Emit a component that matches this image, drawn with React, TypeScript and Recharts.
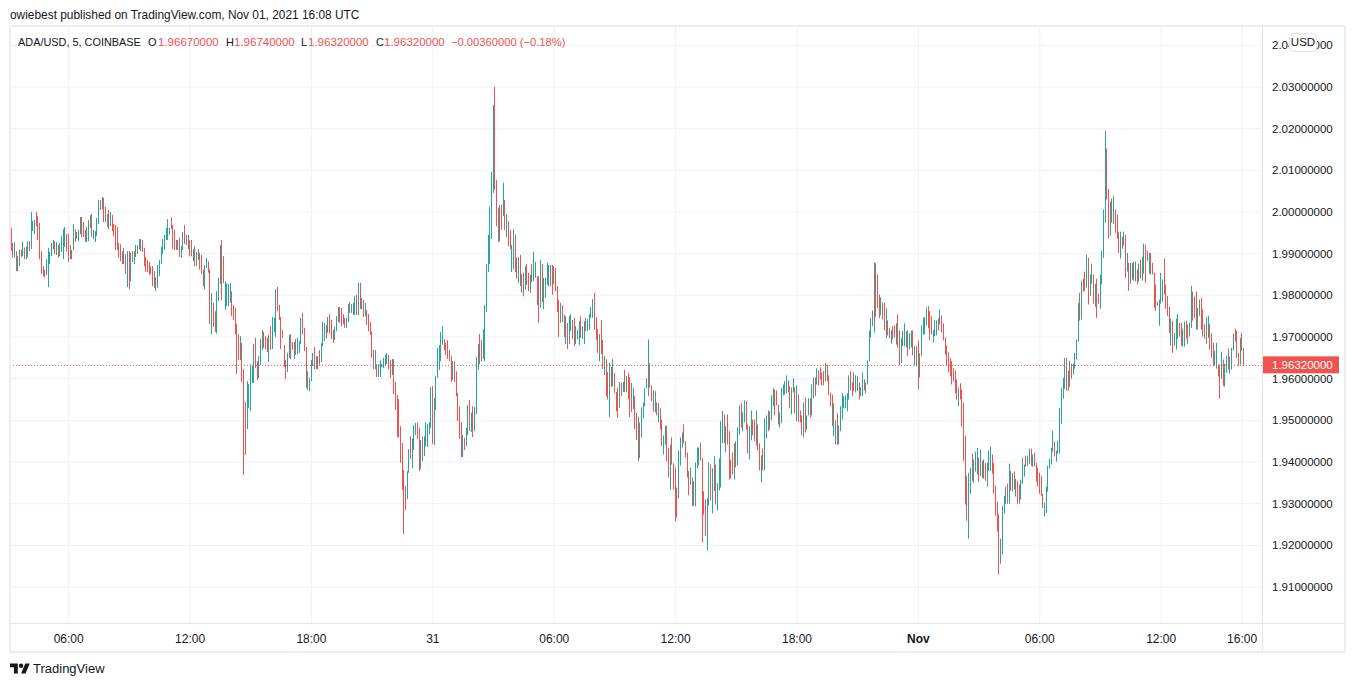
import { Bar, CartesianGrid, ComposedChart, ReferenceLine, XAxis, YAxis } from "recharts";

const FONT = "'Liberation Sans', Arial, sans-serif";
const TEXT = "#131722";
const RED = "#ef5350";
const GREEN = "#26a69a";
const GRID = "#f0f2f6";
const FRAME = "#eceef4";

// 5 minute bars, prices in 1e-4 USD
const highs = [
  19962,19926,19928,19906,19894,19909,19909,19929,19915,19917,
  19929,19930,20000,19979,19981,20000,19990,19974,19906,19870,
  19861,19887,19914,19904,19926,19933,19930,19928,19921,19926,
  19942,19959,19964,19947,19947,19921,19909,19971,19959,19952,19957,
  19988,19988,19976,19957,19964,19981,19993,19995,19957,19954,19986,
  20029,20029,20036,20034,20013,19995,20005,20000,19993,19971,19969,
  19964,19926,19923,19906,19914,19899,19906,19906,19902,19906,
  19906,19921,19921,19935,19935,19933,19914,19892,19885,19880,
  19870,19870,19858,19844,19873,19885,19916,19935,19945,19962,
  19983,19962,19988,19969,19957,19933,19933,19938,19918,19952,19969,
  19945,19945,19933,19933,19911,19918,19904,19911,19902,19897,
  19862,19873,19890,19882,19862,19806,19782,19762,19810,19842,
  19921,19933,19894,19834,19829,19827,19829,19810,19777,19770,
  19731,19707,19702,19686,19623,19544,19594,19587,19635,19633,
  19683,19698,19642,19654,19695,19717,19712,19702,19698,19705,
  19726,19748,19746,19815,19820,19777,19748,19717,19681,19645,
  19662,19705,19707,19688,19688,19695,19698,19690,19746,19758,
  19722,19676,19618,19602,19645,19662,19676,19654,19654,19669,
  19685,19736,19734,19729,19748,19755,19741,19717,19724,19750,
  19772,19772,19770,19755,19746,19746,19779,19784,19779,19782,
  19798,19801,19830,19830,19794,19789,19782,19765,19755,19736,
  19714,19669,19669,19635,19635,19645,19635,19650,19657,19662,19657,
  19645,19647,19647,19592,19561,19551,19486,19446,19381,19342,
  19378,19431,19462,19457,19489,19494,19494,19482,19453,19462,
  19462,19496,19491,19496,19580,19582,19554,19606,19674,19681,
  19712,19726,19695,19686,19693,19669,19654,19642,19642,19618,
  19566,19534,19496,19465,19458,19482,19537,19549,19518,19534,
  19532,19652,19683,19707,19693,19719,19777,19875,19945,20012,
  20096,20257,20300,20077,20010,20017,20017,20070,20029,19995,
  19978,19957,19921,19959,19945,19890,19892,19897,19851,19854,
  19870,19875,19854,19849,19875,19904,19880,19846,19846,19885,
  19875,19842,19842,19878,19873,19873,19873,19870,19866,19822,
  19789,19782,19777,19753,19750,19734,19750,19755,19741,19746,
  19726,19717,19738,19750,19726,19738,19746,19743,19755,19772,
  19791,19806,19748,19719,19707,19741,19693,19654,19647,19616,
  19638,19628,19647,19614,19568,19578,19592,19590,19592,19621,
  19606,19614,19604,19590,19578,19558,19518,19508,19495,19531,19543,
  19577,19601,19694,19637,19584,19572,19570,19543,19541,19529,
  19502,19464,19488,19486,19434,19442,19459,19397,19387,19339,
  19428,19459,19471,19490,19450,19423,19378,19387,19363,19354,
  19399,19435,19435,19447,19409,19330,19310,19313,19399,19394,
  19385,19414,19394,19349,19409,19498,19522,19514,19486,19514,
  19474,19406,19423,19445,19450,19483,19536,19541,19519,19548,
  19546,19490,19486,19524,19502,19502,19524,19490,19445,19416,
  19433,19505,19512,19524,19522,19560,19577,19574,19572,19538,
  19519,19577,19586,19594,19608,19596,19582,19579,19601,19579,
  19584,19562,19524,19512,19543,19555,19512,19553,19553,19586,
  19603,19603,19625,19620,19627,19615,19618,19637,19634,19608,
  19567,19562,19541,19500,19517,19488,19534,19565,19558,19560,
  19565,19608,19618,19591,19615,19608,19606,19591,19579,19615,
  19598,19591,19644,19716,19745,19764,19879,19877,19850,19802,
  19795,19783,19783,19769,19740,19721,19716,19726,19728,19733,
  19754,19716,19697,19714,19733,19714,19716,19709,19716,19716,
  19678,19678,19692,19661,19728,19747,19747,19771,19774,19762,
  19750,19716,19740,19740,19745,19766,19752,19733,19699,19680,
  19663,19649,19642,19625,19620,19598,19579,19589,19574,19542,
  19463,19367,19374,19386,19420,19406,19425,19434,19410,19430,
  19403,19406,19398,19398,19427,19437,19418,19398,19343,19305,
  19274,19216,19295,19319,19341,19348,19396,19379,19374,19377,
  19360,19355,19346,19358,19410,19394,19415,19415,19432,19432,
  19418,19423,19398,19386,19374,19367,19324,19302,19341,19391,
  19408,19434,19475,19449,19427,19451,19530,19578,19602,19650,
  19650,19619,19643,19636,19636,19662,19694,19782,19806,19835,
  19840,19857,19898,19890,19850,19876,19850,19828,19840,19804,
  19850,19907,20006,20195,20152,20056,20025,20032,20039,20006,
  19994,19953,19953,19941,19953,19946,19902,19878,19878,19878,
  19881,19881,19862,19876,19886,19893,19924,19922,19907,19902,
  19902,19878,19854,19826,19785,19790,19854,19838,19888,19826,
  19799,19773,19744,19739,19710,19744,19756,19734,19734,19720,
  19737,19739,19730,19734,19823,19809,19797,19809,19770,19790,
  19794,19766,19730,19749,19751,19732,19710,19686,19667,19686,
  19634,19634,19665,19646,19636,19655,19672,19653,19674,19708,
  19720,19715,19662,19698,19710,19674,
];

const lows = [
  19906,19890,19890,19858,19858,19870,19892,19894,19887,19887,
  19892,19906,19911,19954,19947,19966,19933,19887,19851,19846,
  19843,19849,19820,19875,19894,19911,19899,19897,19890,19894,
  19904,19887,19916,19905,19880,19887,19887,19909,19928,19935,19930,
  19947,19940,19940,19928,19928,19930,19962,19940,19935,19928,19942,
  19971,20005,20007,19976,19976,19964,19959,19966,19954,19942,19909,
  19909,19890,19882,19875,19875,19851,19820,19815,19834,19880,
  19875,19892,19899,19911,19906,19904,19870,19856,19856,19849,
  19851,19822,19818,19810,19818,19846,19875,19899,19909,19933,
  19933,19945,19959,19911,19909,19909,19909,19892,19890,19909,19923,
  19921,19911,19894,19894,19882,19870,19870,19885,19862,19851,
  19822,19815,19866,19854,19731,19707,19724,19712,19708,19786,
  19827,19789,19829,19765,19774,19774,19782,19750,19741,19707,
  19611,19645,19645,19592,19369,19417,19479,19530,19522,19590,
  19590,19626,19597,19602,19633,19669,19674,19671,19664,19640,
  19669,19671,19712,19700,19762,19741,19671,19698,19628,19599,
  19616,19650,19647,19669,19647,19657,19659,19662,19683,19707,
  19666,19578,19573,19570,19594,19630,19623,19623,19623,19632,
  19640,19678,19690,19697,19710,19709,19695,19686,19693,19714,
  19736,19734,19726,19731,19722,19722,19736,19758,19758,19753,
  19753,19753,19753,19767,19767,19748,19750,19729,19714,19705,
  19650,19623,19623,19604,19604,19604,19627,19625,19633,19635,19623,
  19602,19609,19563,19525,19460,19458,19398,19333,19227,19285,
  19311,19374,19407,19385,19429,19465,19455,19378,19383,19402,
  19414,19438,19436,19467,19482,19443,19441,19525,19602,19621,
  19642,19681,19669,19657,19647,19642,19592,19597,19592,19558,
  19498,19455,19412,19412,19429,19438,19465,19474,19472,19460,
  19474,19515,19621,19635,19642,19647,19642,19760,19856,19875,
  19935,20046,20053,19966,19928,19930,19957,19990,19957,19940,
  19918,19911,19856,19863,19856,19839,19830,19822,19806,19798,
  19813,19825,19810,19806,19832,19834,19842,19777,19734,19770,
  19784,19767,19794,19825,19822,19822,19801,19827,19810,19760,
  19700,19734,19736,19700,19683,19671,19683,19714,19695,19678,
  19683,19695,19681,19698,19695,19683,19714,19714,19717,19746,
  19746,19717,19693,19662,19642,19659,19623,19609,19558,19550,
  19508,19580,19582,19566,19522,19506,19530,19558,19568,19568,
  19568,19551,19508,19520,19527,19479,19453,19402,19409,19459,19505,
  19534,19577,19558,19579,19546,19521,19519,19512,19495,19478,
  19438,19418,19442,19402,19363,19334,19394,19334,19258,19267,
  19313,19392,19435,19445,19411,19363,19320,19346,19294,19296,
  19294,19385,19392,19404,19207,19274,19222,19188,19296,19308,
  19277,19330,19298,19284,19332,19339,19445,19445,19423,19442,
  19358,19361,19370,19358,19387,19392,19466,19483,19474,19495,
  19478,19421,19406,19452,19464,19450,19440,19428,19380,19351,
  19380,19380,19457,19474,19478,19500,19534,19512,19536,19490,
  19483,19493,19560,19562,19565,19567,19529,19514,19567,19517,
  19498,19496,19495,19464,19459,19471,19478,19512,19507,19512,
  19553,19558,19586,19584,19598,19584,19584,19594,19594,19560,
  19534,19486,19462,19442,19442,19442,19474,19502,19529,19529,
  19522,19550,19572,19558,19570,19567,19570,19550,19558,19558,
  19572,19565,19586,19642,19699,19726,19711,19749,19770,19745,
  19752,19742,19716,19697,19704,19697,19684,19694,19699,19682,
  19675,19632,19637,19678,19678,19675,19654,19670,19675,19656,
  19632,19630,19574,19603,19654,19706,19706,19728,19721,19692,
  19706,19687,19702,19704,19716,19730,19711,19692,19658,19632,
  19615,19606,19586,19594,19565,19550,19534,19550,19485,19403,
  19298,19259,19216,19324,19355,19350,19377,19370,19353,19367,
  19362,19360,19355,19341,19379,19379,19372,19324,19271,19233,
  19130,19156,19178,19276,19300,19300,19300,19331,19329,19334,
  19317,19300,19300,19310,19348,19365,19389,19391,19396,19391,
  19389,19389,19353,19341,19324,19319,19290,19269,19278,19329,
  19384,19394,19425,19413,19401,19420,19420,19492,19552,19576,
  19571,19571,19581,19600,19610,19624,19646,19689,19739,19742,
  19809,19811,19818,19778,19799,19828,19780,19773,19746,19780,
  19768,19826,19890,19974,20030,19936,19943,19974,19972,19950,
  19936,19902,19888,19912,19919,19842,19857,19811,19828,19838,
  19835,19833,19826,19833,19840,19835,19852,19830,19883,19852,
  19850,19850,19770,19763,19775,19727,19780,19785,19802,19768,
  19751,19710,19679,19662,19679,19670,19696,19701,19679,19677,
  19677,19696,19684,19701,19722,19739,19746,19718,19718,19751,
  19718,19701,19696,19684,19698,19670,19650,19631,19631,19624,
  19605,19552,19600,19583,19581,19614,19622,19612,19622,19667,
  19689,19650,19631,19634,19667,19632,
];

// g = closed up, r = closed down, same rows as above
const sides = [
  "rrgrggrgrg","grgggrrrrr","rgggggrgrg","gggrrrggrgg","grrrgggrggg","grgrrgrgrrr",
  "rrrrgrgrgr","ggrggrrrrr","rrrggggggg","ggrrrrgrggr","rgrrgrggrr","rggrrgrrgg",
  "grrggggrrr","rrgrrrgggg","grrgggrrrg","rgggrrrrrr","ggrrgrgggr","rrggggrrgr",
  "gggrgrrrgg","grrrrggrgg","grgrgrgrrr","rrgrggggggr","rgrrrrrrrr","ggrgggrrgr",
  "gggggrgggg","ggrrrrrgrr","rrrgrggrgr","gggrrggggg","ggrrrgrgrg","rrggrrgrgr",
  "grrgrggrrg","rggggrrgrr","rgrrgrggrr","gggrggrggg","grrrgrrgrr","grgrrrgrgr",
  "grrrgrrgrgg","gggrrrgrgr","rggrrgrrrr","gggrrrrgrg","gggrrrrggr","ggrggggrgr",
  "rrrgrggrgg","rrggrrgrrg","rggrgggrrr","gggggrrggr","grrrgrggrg","grgrrrrgrr",
  "rrggrggggg","ggrrrggrgg","rggggrgrrr","grrgrrgrrg","rrggggrggr","grrgggggrr",
  "rgggrgrrrr","rrrrrrgrrr","rrggrgggrg","rgrgggrrrr","rggggrgrgr","grrgggrggr",
  "grrrrrrggg","gggrgggggg","rrgrggggrg","rrgrggrgrr","ggggrrgrgr","rrgrgrgrgg",
  "rgrgrggrrg","rrrrrgggrr","rrgrgggrrg","grrggrrrgg","rrrggrrrgg","rrgrggrggg",
  "rrrgrr",
];

const priceTicks = [1.91, 1.92, 1.93, 1.94, 1.95, 1.96, 1.97, 1.98, 1.99, 2.0, 2.01, 2.02, 2.03, 2.04];
const timeTicks = [34, 106, 178, 250, 322, 394, 466, 538, 610, 682, 730];
const timeLabels = ["06:00", "12:00", "18:00", "31", "06:00", "12:00", "18:00", "Nov", "06:00", "12:00", "16:00"];
const boldLabels = ["Nov"];
const lastPrice = 1.9632;

const directions = sides.join("");
const rows = highs.map((high, i) => ({
  idx: i,
  range: [lows[i] / 10000, high / 10000],
  up: directions[i] === "g",
}));

function CandleBar(props: any) {
  return (
    <rect
      x={Math.round(props.x)}
      y={props.y}
      width={1}
      height={props.height}
      fill={props.payload.up ? GREEN : RED}
    />
  );
}

function TimeTick({ x, y, payload }: any) {
  const label = timeLabels[timeTicks.indexOf(payload.value)];
  return (
    <text
      x={x}
      y={y}
      dy={4}
      textAnchor="middle"
      fontFamily={FONT}
      fontSize={12}
      fontWeight={boldLabels.includes(label) ? 700 : 400}
      fill={TEXT}
    >
      {label}
    </text>
  );
}

function PriceTag({ viewBox }: any) {
  const right = viewBox.x + viewBox.width;
  return (
    <g>
      <rect x={right} y={viewBox.y - 9} width={77} height={17} fill={RED} />
      <text x={right + 10} y={viewBox.y + 4} fontFamily={FONT} fontSize={11.5} fill="#fff">
        {lastPrice.toFixed(8)}
      </text>
    </g>
  );
}

const legendParts: [number, string, string, number][] = [
  [18, "ADA/USD, 5, COINBASE", TEXT, 10.9],
  [148, "O", TEXT, 11],
  [158, "1.96670000", RED, 11.5],
  [226, "H", TEXT, 11],
  [234, "1.96740000", RED, 11.5],
  [301, "L", TEXT, 11],
  [308, "1.96320000", RED, 11.5],
  [376, "C", TEXT, 11],
  [384, "1.96320000", RED, 11.5],
  [451, "\u22120.00360000 (\u22120.18%)", RED, 11.2],
];

export default function App() {
  return (
    <div
      style={{
        position: "absolute",
        left: 0,
        top: 0,
        width: 1354,
        height: 686,
        background: "#fff",
        fontFamily: FONT,
        color: TEXT,
        overflow: "hidden",
      }}
    >
      <div style={{ position: "absolute", left: 10, top: 8, fontSize: 11.9, lineHeight: "14px", whiteSpace: "nowrap" }}>
        owiebest published on TradingView.com, Nov 01, 2021 16:08 UTC
      </div>
      <div style={{ position: "absolute", left: 0, top: 0 }}>
        <ComposedChart
          width={1354}
          height={686}
          data={rows}
          margin={{ top: 27, right: 10, bottom: 35, left: 10 }}
          barCategoryGap={0}
        >
          <CartesianGrid stroke={GRID} syncWithTicks />
          <XAxis
            dataKey="idx"
            type="number"
            domain={[-0.8, 741.8]}
            ticks={timeTicks}
            interval={0}
            height={27}
            axisLine={false}
            tickLine={false}
            tick={<TimeTick />}
            tickMargin={9}
          />
          <YAxis
            orientation="right"
            domain={[1.90113, 2.0444]}
            ticks={priceTicks}
            interval={0}
            width={82}
            axisLine={false}
            tickLine={false}
            tickSize={0}
            tickMargin={10}
            tick={{ fontFamily: FONT, fontSize: 11.5, fill: TEXT, textAnchor: "start" }}
            tickFormatter={(value: number) => value.toFixed(8)}
          />
          <Bar dataKey="range" barSize={1} shape={<CandleBar />} isAnimationActive={false} />
          <ReferenceLine y={lastPrice} stroke={RED} strokeDasharray="1 2" label={<PriceTag />} />
        </ComposedChart>
      </div>
      {/* chart frame and pane separators */}
      <div style={{ position: "absolute", left: 9, top: 25, width: 1333, height: 624, border: `2px solid ${FRAME}` }} />
      <div style={{ position: "absolute", left: 10, top: 623, width: 1334, height: 1, background: "#e3e5ec" }} />
      <div style={{ position: "absolute", left: 1262, top: 27, width: 1, height: 624, background: "#e3e5ec" }} />
      <div style={{ position: "absolute", left: 0, top: 35, height: 14, lineHeight: "14px", whiteSpace: "nowrap" }}>
        {legendParts.map(([left, text, color, size], i) => (
          <span key={i} style={{ position: "absolute", left, color, fontSize: size }}>
            {text}
          </span>
        ))}
      </div>
      <div
        style={{
          position: "absolute",
          left: 1289,
          top: 33,
          width: 26,
          height: 17,
          border: "1px solid #e0e3eb",
          borderRadius: 4,
          background: "#fff",
          fontSize: 11.5,
          lineHeight: "17px",
          textAlign: "center",
        }}
      >
        USD
      </div>
      <svg style={{ position: "absolute", left: 10, top: 661 }} width={20} height={16} viewBox="0 0 36 28">
        <path d="M14 22H7V11H0V4h14v18zM28 22h-8l7.5-18h8L28 22z" fill={TEXT} />
        <circle cx={20} cy={8} r={4} fill={TEXT} />
      </svg>
      <div style={{ position: "absolute", left: 33, top: 660, fontSize: 13, lineHeight: "17px" }}>TradingView</div>
    </div>
  );
}
